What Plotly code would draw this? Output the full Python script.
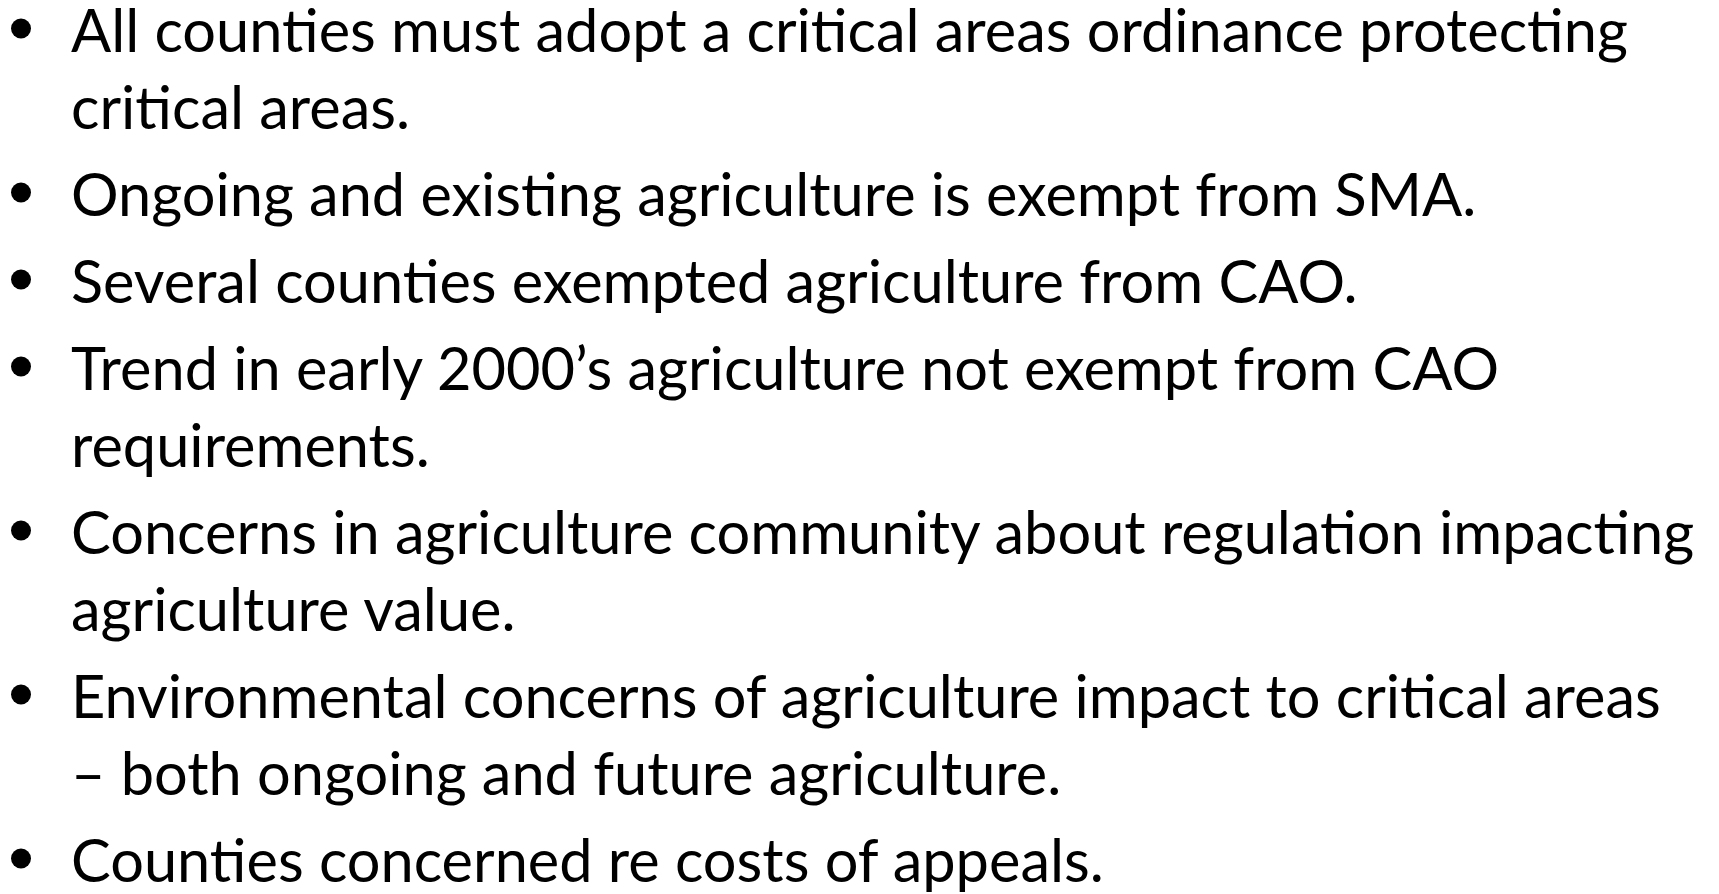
import plotly.graph_objects as go

# Slide content: one list of wrapped lines per bullet
bullets = [
    ["All counties must adopt a critical areas ordinance protecting",
     "critical areas."],
    ["Ongoing and existing agriculture is exempt from SMA."],
    ["Several counties exempted agriculture from CAO."],
    ["Trend in early 2000\u2019s agriculture not exempt from CAO",
     "requirements."],
    ["Concerns in agriculture community about regulation impacting",
     "agriculture value."],
    ["Environmental concerns of agriculture impact to critical areas",
     "\u2013 both ongoing and future agriculture."],
    ["Counties concerned re costs of appeals."],
]

W, H = 1719, 894
FONT = "Lato"
SIZE = 59.5
FIRST_BASELINE = 52
LINE_STEP = 77
PARA_GAP = 10
TEXT_X = 69
BULLET_X = 21
BULLET_RISE = 23.5
BASE_TO_MID = 0.387 * SIZE

fig = go.Figure()
annotations = []
bx, by = [], []
line_no = 0
for p, lines in enumerate(bullets):
    for j, line in enumerate(lines):
        baseline = FIRST_BASELINE + LINE_STEP * line_no + PARA_GAP * p
        if j == 0:
            bx.append(BULLET_X)
            by.append(baseline - BULLET_RISE)
        annotations.append(dict(
            x=TEXT_X, y=baseline - BASE_TO_MID, xref="x", yref="y",
            text=line, showarrow=False, xanchor="left", yanchor="middle",
            font=dict(family=FONT, size=SIZE, color="#000000"),
        ))
        line_no += 1

fig.add_trace(go.Scatter(
    x=bx, y=by, mode="markers",
    marker=dict(symbol="circle", size=20, color="#000000", line=dict(width=0)),
    hoverinfo="skip", showlegend=False, cliponaxis=False,
))

fig.update_layout(
    width=W, height=H,
    margin=dict(l=0, r=0, t=0, b=0),
    paper_bgcolor="#ffffff", plot_bgcolor="#ffffff",
    xaxis=dict(range=[0, W], visible=False, fixedrange=True),
    yaxis=dict(range=[H, 0], visible=False, fixedrange=True),
    annotations=annotations,
    showlegend=False,
)

fig.write_html(
    "out.html",
    config={"displayModeBar": False},
    post_script="document.body.style.margin='0';document.body.style.overflow='hidden';",
)
